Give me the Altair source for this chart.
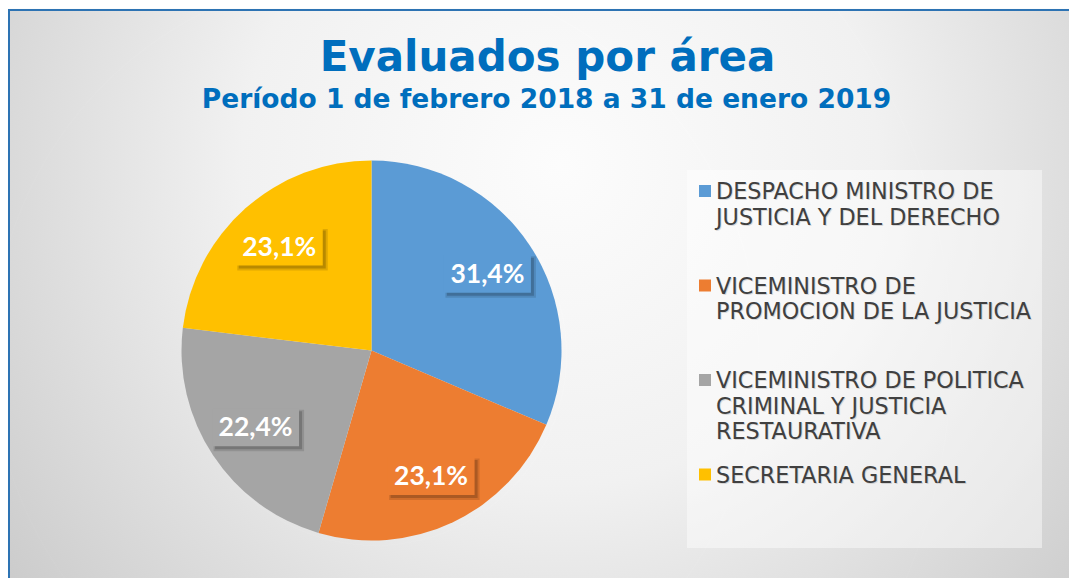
import altair as alt
import pandas as pd

# ---------------- data ----------------
categories = [
    "DESPACHO MINISTRO DE JUSTICIA Y DEL DERECHO",
    "VICEMINISTRO DE PROMOCION DE LA JUSTICIA",
    "VICEMINISTRO DE POLITICA CRIMINAL Y JUSTICIA RESTAURATIVA",
    "SECRETARIA GENERAL",
]
values = [31.4, 23.1, 22.4, 23.1]
pct_labels = ["31,4%", "23,1%", "22,4%", "23,1%"]
legend_labels = [
    "DESPACHO MINISTRO DE\nJUSTICIA Y DEL DERECHO",
    "VICEMINISTRO DE\nPROMOCION DE LA JUSTICIA",
    "VICEMINISTRO DE POLITICA\nCRIMINAL Y JUSTICIA\nRESTAURATIVA",
    "SECRETARIA GENERAL",
]
colors = ["#5B9BD5", "#ED7D31", "#A5A5A5", "#FFC000"]
title_text = "Evaluados por área"
subtitle_text = "Período 1 de febrero 2018 a 31 de enero 2019"

# ---------------- layout ----------------
W, H = 1061, 570
CX, CY, R = 363.5, 342.5, 190
LR = 139          # label radius
BW, BH = 87, 38   # label box size

df = pd.DataFrame({
    "cat": categories,
    "value": values,
    "idx": list(range(len(categories))),
    "pct": pct_labels,
    "leg": legend_labels,
})
color_scale = alt.Scale(domain=categories, range=colors)
one = alt.Data(values=[{}])

# background with radial gradient
bg = alt.Chart(one).mark_rect(
    fill=alt.RadialGradient(
        gradient="radial", x1=0.52, y1=0.38, r1=0, x2=0.52, y2=0.38, r2=0.75,
        stops=[
            alt.GradientStop(offset=0, color="#ffffff"),
            alt.GradientStop(offset=0.4, color="#f4f4f4"),
            alt.GradientStop(offset=1, color="#c4c4c4"),
        ],
    )
).encode(x=alt.value(0), x2=alt.value(W), y=alt.value(1), y2=alt.value(H))

border_top = alt.Chart(one).mark_rule(color="#2E75B6", strokeWidth=2).encode(
    x=alt.value(0), x2=alt.value(W), y=alt.value(2))
border_left = alt.Chart(one).mark_rule(color="#2E75B6", strokeWidth=2).encode(
    x=alt.value(1), y=alt.value(1), y2=alt.value(H))

title = alt.Chart(one).mark_text(
    text=title_text, font="DejaVu Sans", fontWeight="bold", fontSize=42,
    color="#0070C0", align="center", baseline="alphabetic",
).encode(x=alt.value(539.5), y=alt.value(63))
subtitle = alt.Chart(one).mark_text(
    text=subtitle_text, font="DejaVu Sans", fontWeight="bold", fontSize=26.5,
    color="#0070C0", align="center", baseline="alphabetic",
).encode(x=alt.value(538.5), y=alt.value(100))

# pie shadow (soft)
shadow_df = pd.DataFrame({"r": [R + k for k in range(1, 15)]})
pie_shadow = alt.Chart(shadow_df).mark_arc(
    theta=0, theta2=6.2832, color="black", opacity=0.012
).encode(x=alt.value(CX + 4), y=alt.value(CY + 4),
         radius=alt.Radius("r:Q", scale=None))

base = alt.Chart(df)
pie = base.mark_arc(radius=R).encode(
    theta=alt.Theta("value:Q", stack=True),
    color=alt.Color("cat:N", scale=color_scale, legend=None),
    order=alt.Order("idx:Q"),
    x=alt.value(CX), y=alt.value(CY),
)

lab = (
    base.transform_joinaggregate(total="sum(value)")
    .transform_window(cum="sum(value)", sort=[alt.SortField("idx")], frame=[None, 0])
    .transform_calculate(mid="(datum.cum - datum.value/2) / datum.total * 2 * PI")
    .transform_calculate(lx=f"{CX} + {LR} * sin(datum.mid)")
    .transform_calculate(ly=f"{CY} - {LR} * cos(datum.mid)")
    .transform_calculate(bx1=f"datum.lx - {BW/2}")
    .transform_calculate(bx2=f"datum.lx + {BW/2}")
    .transform_calculate(by1=f"datum.ly - {BH/2}")
    .transform_calculate(by2=f"datum.ly + {BH/2}")
    .transform_calculate(sx1="datum.bx1 + 3", sx2="datum.bx2 + 3")
    .transform_calculate(sy1="datum.by1 + 3", sy2="datum.by2 + 3")
    .transform_calculate(tx1="datum.bx1 + 1.5", tx2="datum.bx2 + 5")
    .transform_calculate(ty1="datum.by1 + 1.5", ty2="datum.by2 + 5")
)

box_shadow2 = lab.mark_rect(color="black", opacity=0.12).encode(
    x=alt.X("tx1:Q", scale=None, axis=None), x2="tx2:Q",
    y=alt.Y("ty1:Q", scale=None, axis=None), y2="ty2:Q")
box_shadow = lab.mark_rect(color="black", opacity=0.18).encode(
    x=alt.X("sx1:Q", scale=None, axis=None), x2="sx2:Q",
    y=alt.Y("sy1:Q", scale=None, axis=None), y2="sy2:Q")
boxes = lab.mark_rect().encode(
    x=alt.X("bx1:Q", scale=None, axis=None), x2="bx2:Q",
    y=alt.Y("by1:Q", scale=None, axis=None), y2="by2:Q",
    color=alt.Color("cat:N", scale=color_scale, legend=None))
labels = lab.mark_text(
    font="Lato", fontWeight="bold", fontSize=26.5, color="white",
    align="center", baseline="middle", dy=1,
).encode(x=alt.X("lx:Q", scale=None, axis=None),
         y=alt.Y("ly:Q", scale=None, axis=None), text="pct:N")

# legend (drawn manually)
legend_box = alt.Chart(one).mark_rect(color="white", opacity=0.45).encode(
    x=alt.value(679), x2=alt.value(1034), y=alt.value(162), y2=alt.value(540))
leg = base.transform_calculate(sy="183 + datum.idx * 94.5").transform_calculate(
    ty="191 + datum.idx * 94.5")
leg_sq = leg.mark_square(size=144, opacity=1, strokeWidth=0).encode(
    x=alt.value(697), y=alt.Y("sy:Q", scale=None, axis=None),
    color=alt.Color("cat:N", scale=color_scale, legend=None))
leg_txt_sh = leg.mark_text(
    align="left", baseline="alphabetic", font="DejaVu Sans", fontSize=22.3,
    color="black", opacity=0.12, lineBreak="\n", lineHeight=25.7, dx=1, dy=1,
).encode(x=alt.value(708), y=alt.Y("ty:Q", scale=None, axis=None), text="leg:N")
leg_txt = leg.mark_text(
    align="left", baseline="alphabetic", font="DejaVu Sans", fontSize=22.3,
    color="#404040", lineBreak="\n", lineHeight=25.7,
).encode(x=alt.value(708), y=alt.Y("ty:Q", scale=None, axis=None), text="leg:N")

chart = alt.layer(
    bg, border_top, border_left, title, subtitle,
    pie_shadow, pie, box_shadow2, box_shadow, boxes, labels,
    legend_box, leg_sq, leg_txt_sh, leg_txt,
).properties(
    width=W, height=H, padding=0, autosize="none", background="white"
).configure_view(stroke=None)

chart.save("out.html", embed_options={"renderer": "svg", "actions": False})
